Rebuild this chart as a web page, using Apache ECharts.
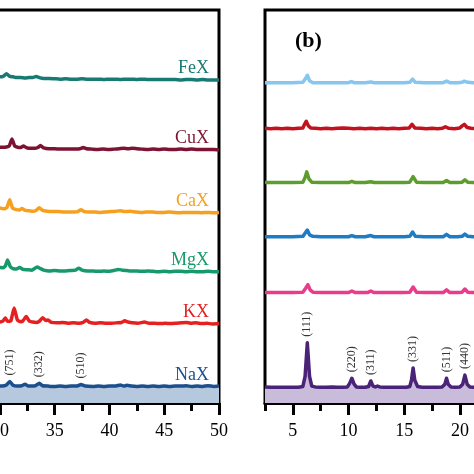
<!DOCTYPE html>
<html><head><meta charset="utf-8">
<script src="https://cdn.jsdelivr.net/npm/echarts@6/dist/echarts.min.js"></script>
<style>html,body{margin:0;padding:0;background:#fff}#c{width:474px;height:474px}</style>
</head><body><div id="c"></div>
<script>
// ---------- Panel (a): 2θ (deg) vs relative intensity ----------
const namesA = ['FeX', 'CuX', 'CaX', 'MgX', 'KX', 'NaX'];
const offsetsA = [822, 644, 484, 333, 201, 41];
const FeX = [[29,9],[29.5,8],[30,8],[30.3,9],[30.6,16],[30.9,9],[31.2,8],[31.5,6],[31.9,6],[32.3,5],[32.7,6],[33.0,6],[33.3,9],[33.6,6],[34.0,4],[34.5,4],[35,3],[35.5,2],[36,3],[36.5,2],[37,2],[37.5,3],[38,2],[38.5,2],[39,2],[39.5,1],[40,2],[40.5,2],[41,1],[41.5,2],[42,2],[42.5,1],[43,2],[43.5,1],[44,1],[44.5,1],[45,1],[45.5,1],[46,1],[46.5,0],[47,1],[47.5,1],[48,0],[48.5,1],[49,0],[49.5,0],[50,0]];
const CuX = [[29,8],[29.5,8],[30,7],[30.5,7],[30.85,10],[31.1,28],[31.35,10],[31.7,6],[31.9,6],[32.15,10],[32.4,6],[32.8,4],[33.2,4],[33.45,6],[33.7,11],[34.0,5],[34.5,3],[35,3],[35.5,2],[36,2],[36.5,2],[37.0,2],[37.3,3],[37.6,6],[37.9,3],[38.4,2],[38.9,1],[39.4,2],[39.9,1],[40.4,2],[40.9,3],[41.3,4],[41.7,3],[42.1,4],[42.5,3],[43,2],[43.5,1],[44,2],[44.5,1],[45,2],[45.5,1],[46,1],[46.5,2],[47,1],[47.5,2],[48,1],[48.5,1],[49,1],[49.5,1],[50,0]];
const CaX = [[29,14],[29.5,13],[30,12],[30.4,10],[30.65,14],[30.9,33],[31.15,12],[31.5,8],[31.8,7],[32.0,11],[32.3,6],[32.7,5],[33.0,4],[33.3,6],[33.6,13],[33.9,6],[34.3,4],[34.8,3],[35.3,3],[35.8,2],[36.3,2],[36.8,2],[37.1,3],[37.4,8],[37.7,3],[38.2,2],[38.7,2],[39.2,1],[39.7,2],[40.2,3],[40.6,4],[41.0,5],[41.4,3],[41.9,4],[42.4,2],[42.9,1],[43.4,2],[43.9,2],[44.4,1],[44.9,1],[45.4,2],[45.9,1],[46.4,0],[46.9,1],[47.4,1],[47.9,1],[48.4,0],[48.9,1],[49.4,0],[50,1]];
const MgX = [[29,14],[29.5,13],[30,12],[30.3,11],[30.5,16],[30.7,31],[30.95,14],[31.2,9],[31.5,8],[31.8,12],[32.1,7],[32.5,6],[32.9,5],[33.1,8],[33.4,13],[33.7,9],[34.0,5],[34.5,3],[35,4],[35.5,3],[36,3],[36.5,4],[36.9,5],[37.2,10],[37.5,5],[38,3],[38.5,3],[39,2],[39.5,3],[40,2],[40.4,4],[40.8,7],[41.2,5],[41.6,4],[42,3],[42.5,3],[43,2],[43.5,3],[44,2],[44.5,1],[45,2],[45.5,1],[46,2],[46.5,2],[47,1],[47.5,2],[48,1],[48.5,1],[49,2],[49.5,1],[50,1]];
const KX = [[29,8],[29.5,6],[30,5],[30.3,8],[30.5,15],[30.7,7],[31.0,8],[31.3,41],[31.6,10],[31.9,6],[32.1,8],[32.4,19],[32.7,7],[33.0,5],[33.3,4],[33.6,7],[33.9,16],[34.2,9],[34.4,10],[34.7,4],[35.2,3],[35.7,4],[36.2,2],[36.7,3],[37.2,2],[37.6,4],[37.9,10],[38.2,4],[38.7,2],[39.2,3],[39.7,2],[40.2,2],[40.7,3],[41.1,4],[41.4,8],[41.7,5],[42.1,3],[42.6,2],[43.2,5],[43.6,2],[44.1,2],[44.6,1],[45.1,2],[45.6,1],[46.1,2],[46.6,3],[47.0,4],[47.4,2],[47.9,3],[48.4,1],[48.9,2],[49.4,0],[50,1]];
const NaX = [[29,2],[29.5,3],[30,2],[30.4,3],[30.6,5],[30.9,14],[31.2,4],[31.6,2],[32.0,3],[32.3,7],[32.6,2],[33.0,2],[33.3,4],[33.6,9],[33.9,3],[34.4,2],[35,1],[35.5,2],[36,1],[36.5,2],[37.0,2],[37.4,6],[37.8,2],[38.5,1],[39,2],[39.5,1],[40,2],[40.5,2],[41.0,5],[41.3,2],[41.6,4],[42,2],[42.5,1],[43,2],[43.5,1],[44,2],[44.5,1],[45,2],[45.5,1],[46,2],[46.5,2],[47.0,3],[47.5,1],[48,2],[48.5,1],[49,3],[49.5,1],[50,2]];
const peaksA = ['(751)', '(332)', '(510)'];
const peaksA_2theta = [30.9, 33.6, 37.4];

// ---------- Panel (b) ----------
const offsetsB = [814, 697, 560, 422, 280, 38];
const B1 = [[2.5,1],[3,1],[4,1],[5,1],[5.9,2],[6.15,12],[6.3,20],[6.5,6],[6.8,1],[7.5,1],[8.5,1],[9.5,1],[10.0,1],[10.25,4],[10.5,1],[11.5,1],[12.0,3],[12.3,1],[13,1],[14,1],[15,1],[15.5,2],[15.75,10],[16.0,2],[16.8,1],[17.8,1],[18.5,1],[18.8,5],[19.1,1],[19.8,1],[20.2,2],[20.4,5],[20.7,2],[21.2,1],[22,1]];
const B2 = [[2.5,2],[3,1],[3.5,2],[4,1],[4.5,2],[5,1],[5.5,2],[5.9,3],[6.05,12],[6.2,20],[6.4,8],[6.6,3],[7,2],[7.5,1],[8,2],[8.5,1],[9,2],[9.5,3],[10,2],[10.5,1],[11,2],[11.5,1],[12,2],[12.5,1],[13,2],[13.5,1],[14,2],[14.5,1],[15,2],[15.45,3],[15.7,12],[15.95,3],[16.5,2],[17,1],[17.5,2],[18,1],[18.4,2],[18.7,6],[19.0,2],[19.5,1],[20,3],[20.2,8],[20.4,12],[20.65,4],[21,2],[21.5,1],[22,2]];
const B3 = [[2.5,1],[3,1],[4,1],[5,1],[5.9,2],[6.1,14],[6.25,28],[6.45,10],[6.7,2],[7.5,1],[8.5,1],[9.5,1],[10.0,1],[10.3,4],[10.6,1],[11.5,1],[12.0,3],[12.3,1],[13,1],[14,1],[15,1],[15.5,2],[15.8,16],[16.1,2],[16.8,1],[17.8,1],[18.5,1],[18.8,6],[19.1,1],[19.8,1],[20.2,2],[20.45,8],[20.7,2],[21.2,1],[22,1]];
const B4 = [[2.5,1],[3,1],[4,1],[5,1],[5.9,2],[6.1,10],[6.3,18],[6.5,6],[6.8,2],[7.5,1],[8.5,1],[9.5,1],[10.0,1],[10.3,4],[10.6,1],[11.5,1],[12.0,4],[12.3,1],[13,1],[14,1],[15,1],[15.5,2],[15.75,13],[16.0,2],[16.8,1],[17.8,1],[18.5,1],[18.8,7],[19.1,1],[19.8,1],[20.2,2],[20.45,8],[20.7,2],[21.2,1],[22,1]];
const B5 = [[2.5,1],[3,1],[4,1],[5,1],[5.9,2],[6.15,12],[6.35,21],[6.55,8],[6.8,2],[7.5,1],[8.5,1],[9.5,1],[10.0,1],[10.3,5],[10.6,1],[11.2,1],[11.7,1],[12.0,5],[12.3,1],[13,1],[14,1],[15,1],[15.5,2],[15.8,15],[16.1,2],[16.8,1],[17.8,1],[18.5,1],[18.8,8],[19.1,1],[19.8,1],[20.2,2],[20.45,10],[20.7,2],[21.2,1],[22,1]];
const B6 = [[2.5,3],[3,2],[3.5,2],[4,2],[4.5,2],[5,2],[5.5,2],[5.9,4],[6.1,30],[6.3,115],[6.5,30],[6.7,5],[7,3],[7.5,2],[8,2],[8.5,3],[9,2],[9.5,2],[9.9,3],[10.1,12],[10.3,25],[10.5,10],[10.7,3],[11,2],[11.5,2],[11.8,4],[12.0,18],[12.2,5],[12.4,3],[12.6,5],[12.8,3],[13.2,2],[13.7,2],[14.2,2],[14.7,2],[15.2,2],[15.5,4],[15.65,20],[15.8,51],[15.95,20],[16.2,4],[16.6,2],[17,2],[17.5,2],[18,2],[18.4,3],[18.65,10],[18.8,25],[18.95,10],[19.2,3],[19.6,2],[20,3],[20.25,10],[20.45,33],[20.65,10],[20.9,3],[21.3,2],[21.7,2],[22,2]];
const peaksB = ['(111)', '(220)', '(311)', '(331)', '(511)', '(440)'];
const peaksB_2theta = [6.3, 10.3, 12.0, 15.8, 18.8, 20.45];
const ticksA = [5,10,15,20,25,30,35,40,45,50];
const ticksB = [5,10,15,20,25,30,35,40,45,50];
const minorTicksB = [2.5,7.5,12.5,17.5,22.5,27.5,32.5,37.5,42.5,47.5];

const dataA = [FeX, CuX, CaX, MgX, KX, NaX];
const dataB = [B1, B2, B3, B4, B5, B6];
const colorsA = ['#187a73', '#7c1332', '#f6a020', '#17996b', '#e62020', '#1d4f8d'];
const colorsB = ['#86c6ef', '#c2121f', '#5c9d2e', '#1f7cc2', '#ea3c8c', '#4a2278'];
const FONT = '"Liberation Serif", "Times New Roman", serif';

const chart = echarts.init(document.getElementById('c'), null, {renderer: 'canvas'});

const gridBase = {top: 10, height: 393, show: true, borderColor: '#000', borderWidth: 3, outerBoundsMode: 'none', containLabel: false};
const xBase = {
  type: 'value', max: 50,
  splitLine: {show: false},
  axisLine: {show: true, onZero: false, lineStyle: {color: '#000', width: 3}},
  axisLabel: {color: '#000', fontFamily: FONT, fontSize: 18, margin: 19},
};

const series = [];
dataA.forEach((d, i) => {
  series.push({
    type: 'line', xAxisIndex: 0, yAxisIndex: 0, name: namesA[i],
    data: d.map(p => [p[0], p[1] + offsetsA[i]]),
    symbol: 'none', smooth: 0.15,
    lineStyle: {color: colorsA[i], width: 3.5, join: 'round'},
    areaStyle: i === 5 ? {color: '#b5c8dd', opacity: 1, origin: 'start'} : undefined,
    z: 3
  });
});
dataB.forEach((d, i) => {
  series.push({
    type: 'line', xAxisIndex: 1, yAxisIndex: 1,
    data: d.map(p => [p[0], p[1] + offsetsB[i]]),
    symbol: 'none', smooth: false,
    lineStyle: {color: colorsB[i], width: 3.5, join: 'round'},
    areaStyle: i === 5 ? {color: '#c9bbda', opacity: 1, origin: 'start'} : undefined,
    z: 3
  });
});

chart.setOption({
  animation: false,
  backgroundColor: '#fff',
  grid: [
    Object.assign({left: -274, width: 493}, gridBase),
    Object.assign({left: 265, width: 529}, gridBase)
  ],
  xAxis: [
    Object.assign({}, xBase, {gridIndex: 0, min: 5, interval: 5,
      axisTick: {show: true, inside: false, length: 12, lineStyle: {color: '#000', width: 3}},
      minorTick: {show: true, splitNumber: 2, length: 8, lineStyle: {color: '#000', width: 3}}}),
    Object.assign({}, xBase, {gridIndex: 1, min: 2.5, position: 'bottom',
      axisTick: {show: true, length: 12, customValues: ticksB, lineStyle: {color: '#000', width: 3}},
      axisLabel: Object.assign({}, xBase.axisLabel, {customValues: ticksB})}),
    Object.assign({}, xBase, {gridIndex: 1, min: 2.5, position: 'bottom', offset: 0,
      axisLine: {show: false},
      axisTick: {show: true, length: 8, customValues: minorTicksB, lineStyle: {color: '#000', width: 3}},
      axisLabel: {show: false}})
  ],
  yAxis: [
    {type: 'value', gridIndex: 0, min: 0, max: 1000, show: false},
    {type: 'value', gridIndex: 1, min: 0, max: 1000, show: false}
  ],
  series: series
});

// labels computed from data through the axes
const g = [];
function peakTop(d, x) {
  let m = -Infinity;
  d.forEach(p => { if (Math.abs(p[0] - x) <= 0.16) m = Math.max(m, p[1]); });
  return m;
}
namesA.forEach((n, i) => {
  const pt = chart.convertToPixel({xAxisIndex: 0, yAxisIndex: 0}, [50, offsetsA[i]]);
  g.push({type: 'text', x: pt[0] - 10, y: pt[1] - 3, z: 10,
    style: {text: n, font: '18px ' + FONT, fill: colorsA[i], align: 'right', verticalAlign: 'bottom', textAlign: 'right', textVerticalAlign: 'bottom'}});
});
peaksA.forEach((t, k) => {
  const x = peaksA_2theta[k];
  const pt = chart.convertToPixel({xAxisIndex: 0, yAxisIndex: 0}, [x, peakTop(NaX, x) + offsetsA[5]]);
  g.push({type: 'text', x: pt[0], y: pt[1] - 6, rotation: Math.PI / 2, z: 10,
    style: {text: t, font: '12px ' + FONT, fill: '#333', align: 'left', verticalAlign: 'middle', textAlign: 'left', textVerticalAlign: 'middle'}});
});
peaksB.forEach((t, k) => {
  const x = peaksB_2theta[k];
  const pt = chart.convertToPixel({xAxisIndex: 1, yAxisIndex: 1}, [x, peakTop(B6, x) + offsetsB[5]]);
  g.push({type: 'text', x: pt[0], y: pt[1] - 6, rotation: Math.PI / 2, z: 10,
    style: {text: t, font: '12px ' + FONT, fill: '#333', align: 'left', verticalAlign: 'middle', textAlign: 'left', textVerticalAlign: 'middle'}});
});
g.push({type: 'text', x: 295, y: 30, z: 10,
  style: {text: '(b)', font: 'bold 22px ' + FONT, fill: '#000', align: 'left', verticalAlign: 'top'}});
chart.setOption({graphic: g});
</script>
</body></html>
